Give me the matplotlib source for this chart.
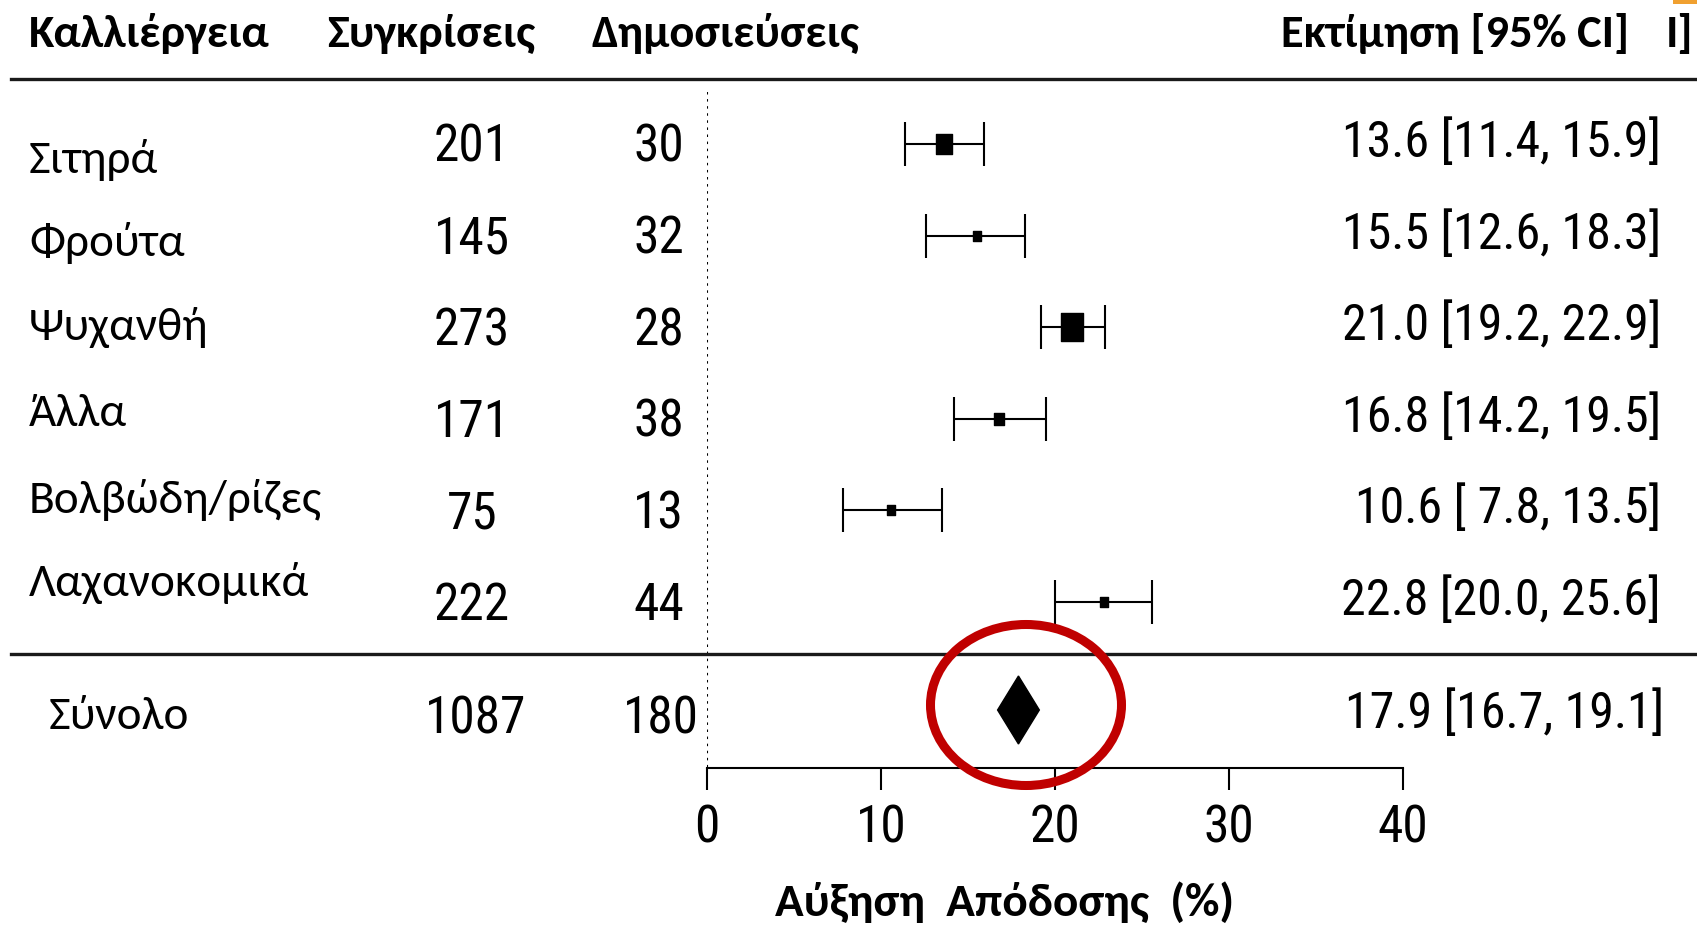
import numpy as np
import matplotlib
matplotlib.use("Agg")
import matplotlib.pyplot as plt
import matplotlib.transforms as mtransforms
from matplotlib import font_manager
from matplotlib.patches import Ellipse, Rectangle
from matplotlib.path import Path

# data
crops = ["Σιτηρά", "Φρούτα", "Ψυχανθή", "Άλλα", "Βολβώδη/ρίζες", "Λαχανοκομικά"]
comparisons = [201, 145, 273, 171, 75, 222]
publications = [30, 32, 28, 38, 13, 44]
estimate = [13.6, 15.5, 21.0, 16.8, 10.6, 22.8]
ci_low = [11.4, 12.6, 19.2, 14.2, 7.8, 20.0]
ci_high = [15.9, 18.3, 22.9, 19.5, 13.5, 25.6]
weights = [23.4, 5.9, 48.4, 9.1, 5.9, 7.4]  # relative weight (%), sets box size

total_label = "Σύνολο"
total_comparisons = 1087
total_publications = 180
total_estimate = 17.9
total_low = 16.7
total_high = 19.1

headers = ["Καλλιέργεια", "Συγκρίσεις", "Δημοσιεύσεις", "Εκτίμηση [95% CI]"]
xticks = [0, 10, 20, 30, 40]
xlabel = "Αύξηση  Απόδοσης  (%)"

# fonts: Calibri-like for the words, narrow grotesque for the numbers
names = {f.name for f in font_manager.fontManager.ttflist}
text_font = "Carlito" if "Carlito" in names else "Open Sans"
num_font = "Roboto Condensed" if "Roboto Condensed" in names else "Liberation Sans"

W, H = 1697, 926
fig = plt.figure(figsize=(W / 100, H / 100), dpi=100)
ax = fig.add_axes([707 / W, 0, 696 / W, 1])
ax.patch.set_visible(False)

ROW0, STEP = 144, 91.6  # pixel centre of first row, pixels per row


def ydat(px):
    # pixel row (from top) -> data y
    return (px - ROW0) / STEP


ax.set_xlim(0, 40)
ax.set_ylim(ydat(H), ydat(0))
rows = np.arange(len(crops))
tr = mtransforms.blended_transform_factory(fig.transFigure, ax.transData)

est = np.array(estimate)
lo = np.array(ci_low)
hi = np.array(ci_high)

# confidence intervals with caps
ax.errorbar(est, rows, xerr=[est - lo, hi - est], fmt="none", ecolor="black",
            elinewidth=1.5, capsize=15.8, capthick=1.5, zorder=3)

# weighted boxes (slightly taller than wide, as in the original)
box = Path([(-1, -1.2), (1, -1.2), (1, 1.2), (-1, 1.2), (-1, -1.2)], closed=True)
box_px = 3.3 * np.sqrt(weights)
for e, r, w in zip(est, rows, box_px):
    ax.plot(e, r, marker=box, markersize=w * 1.2 * 0.72, color="black",
            linestyle="none", zorder=4)

# summary diamond
ty = ydat(710)
dh = 34 / STEP
ax.fill([total_low, total_estimate, total_high, total_estimate],
        [ty, ty - dh, ty, ty + dh], color="black", zorder=4)

# reference line at zero
ax.vlines(0, ydat(92), ydat(768), colors="black", linestyles=(0, (1.2, 2.2)), lw=1.5)

# horizontal rules
for ypx in [79, 654]:
    ax.plot([11 / W, 1], [ydat(ypx)] * 2, transform=tr, clip_on=False,
            lw=2.4, color="#1a1a1a")

# bottom axis
for s in ["top", "left", "right"]:
    ax.spines[s].set_visible(False)
ax.spines["bottom"].set_position(("data", ydat(768)))
ax.spines["bottom"].set_bounds(0, 40)
ax.spines["bottom"].set_linewidth(1.5)
ax.set_xticks(xticks)
ax.set_yticks([])
ax.tick_params(axis="x", direction="out", length=15.8, width=1.5, pad=10, labelsize=37)
for lab in ax.get_xticklabels():
    lab.set_fontfamily(num_font)

# header
hx = [29, 327, 591]
for x, h in zip(hx, headers[:3]):
    ax.text(x / W, ydat(47), h, transform=tr, fontsize=33.5, fontweight="bold",
            family=text_font, ha="left", va="baseline")
ax.text(1629 / W, ydat(47), headers[3], transform=tr, fontsize=33.5, fontweight="bold",
        family=text_font, ha="right", va="baseline")
ax.text(1666 / W, ydat(47), "I]", transform=tr, fontsize=33.5, fontweight="bold",
        family=text_font, ha="left", va="baseline")

# row texts
label_base = [173, 256, 340, 426, 513, 596]
for i, name in enumerate(crops):
    ax.text(29 / W, ydat(label_base[i]), name, transform=tr, fontsize=34,
            family=text_font, ha="left", va="baseline")
    ax.text(472 / W, i + 18 / STEP, str(comparisons[i]), transform=tr, fontsize=37,
            family=num_font, ha="center", va="baseline")
    ax.text(684 / W, i + 18 / STEP, str(publications[i]), transform=tr, fontsize=37,
            family=num_font, ha="right", va="baseline")
    ax.text(1661 / W, i + 13 / STEP, f"{estimate[i]:.1f} [{ci_low[i]:4.1f}, {ci_high[i]:4.1f}]",
            transform=tr, fontsize=36, family=num_font, ha="right", va="baseline")

# total row
ax.text(49 / W, ydat(729), total_label, transform=tr, fontsize=34,
        family=text_font, ha="left", va="baseline")
ax.text(476 / W, ydat(733), str(total_comparisons), transform=tr, fontsize=37,
        family=num_font, ha="center", va="baseline")
ax.text(699 / W, ydat(733), str(total_publications), transform=tr, fontsize=37,
        family=num_font, ha="right", va="baseline")
ax.text(1664 / W, ydat(728), f"{total_estimate:.1f} [{total_low:.1f}, {total_high:.1f}]",
        transform=tr, fontsize=36, family=num_font, ha="right", va="baseline")

# x label
ax.text(1005 / W, ydat(916), xlabel, transform=tr, fontsize=34, fontweight="bold",
        family=text_font, ha="center", va="baseline")

# red highlight around the summary diamond
ax.add_patch(Ellipse(((1026 - 707) / 17.4, ydat(705)), width=191 / 17.4, height=161 / STEP,
                     fill=False, edgecolor="#C00000", lw=6.5, zorder=10, clip_on=False))

# small orange mark at the top-right corner
fig.patches.append(Rectangle((1673 / W, 1 - 4 / H), 24 / W, 4 / H, lw=0,
                             transform=fig.transFigure, facecolor="#F0A030"))

fig.savefig("out.png", dpi=100, facecolor="white")
